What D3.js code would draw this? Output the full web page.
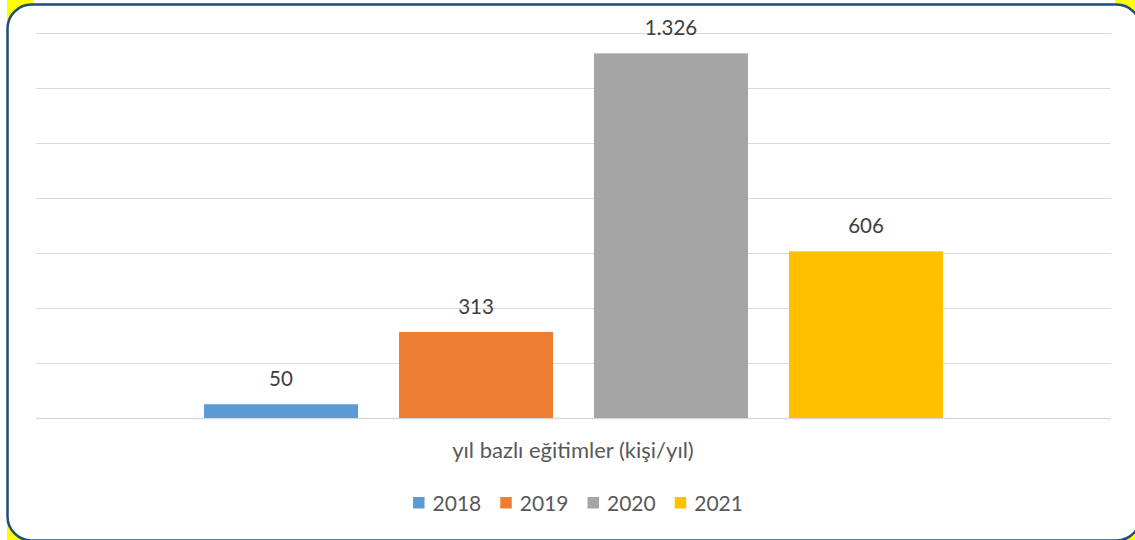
<!DOCTYPE html>
<html><head><meta charset="utf-8">
<script src="https://cdn.jsdelivr.net/npm/d3@7"></script>
<style>
html,body{margin:0;padding:0;background:#fff;}
svg{display:block;}
text{font-family:Lato,"Open Sans",sans-serif;}
</style></head>
<body>
<svg id="chart" width="1135" height="540"></svg>
<script>
const category = "yıl bazlı eğitimler (kişi/yıl)";
const seriesNames = ["2018", "2019", "2020", "2021"];
const seriesValues = [50, 313, 1326, 606];
const seriesColors = ["#5B9BD5", "#ED7D31", "#A5A5A5", "#FFC000"];
const yTicks = [0, 200, 400, 600, 800, 1000, 1200, 1400];
const labelText = ["50", "313", "1.326", "606"];

const svg = d3.select("#chart");
// yellow only peeks out at the rounded corners
const corners = [[7, 0], [1115, 0], [7, 515], [1115, 515]];
svg.append("g").selectAll("rect").data(corners).join("rect")
  .attr("x", d => d[0]).attr("y", d => d[1]).attr("width", d => d[0] > 500 ? 20 : 26).attr("height", 25)
  .attr("fill", "#FFFF00");
svg.append("rect").attr("x", 7.5).attr("y", 4.5).attr("width", 1133).attr("height", 536)
  .attr("rx", 24).attr("ry", 24).attr("fill", "#fff").attr("stroke", "#1F4E79").attr("stroke-width", 2.5);

const plotL = 36, plotR = 1111, plotT = 33, plotB = 418;
const y = d3.scaleLinear().domain([0, 1400]).range([plotB, plotT]);
const xCat = d3.scaleBand().domain([category]).range([plotL, plotR]);
const x = d3.scaleBand().domain(seriesNames)
  .range([183.5, 963.5]).paddingInner(41/195).paddingOuter(20.5/195);

svg.append("g").selectAll("line").data(yTicks).join("line")
  .attr("x1", plotL).attr("x2", plotR)
  .attr("y1", d => Math.round(y(d)) + 0.5).attr("y2", d => Math.round(y(d)) + 0.5)
  .attr("stroke", "#D9D9D9").attr("stroke-width", d => d === 0 ? 1.5 : 1);

const data = seriesNames.map((s, i) => ({s, v: seriesValues[i], c: seriesColors[i], l: labelText[i]}));

svg.append("g").selectAll("rect").data(data).join("rect")
  .attr("x", d => x(d.s)).attr("width", x.bandwidth())
  .attr("y", d => y(d.v)).attr("height", d => y(0) - y(d.v))
  .attr("fill", d => d.c);

svg.append("g").selectAll("text").data(data).join("text")
  .attr("x", d => x(d.s) + x.bandwidth()/2).attr("y", d => y(d.v) - 18)
  .attr("text-anchor", "middle").attr("font-size", 20.5).attr("fill", "#404040")
  .text(d => d.l);

svg.append("text").attr("x", xCat(category) + xCat.bandwidth()/2 - 0.5).attr("y", 458)
  .attr("text-anchor", "middle").attr("font-size", 22).attr("fill", "#595959")
  .text(category);

// legend
const lg = svg.append("g");
const items = lg.selectAll("g").data(data).join("g");
items.append("rect").attr("width", 11.5).attr("height", 11.5).attr("y", 497).attr("fill", d => d.c);
items.append("text").attr("x", 19.5).attr("y", 511).attr("font-size", 21).attr("fill", "#595959").text(d => d.s);
let widths = [];
items.each(function(){ widths.push(this.getBBox().width); });
const gap = 19;
const total = d3.sum(widths) + gap*(widths.length-1);
let cx = 578 - total/2;
items.each(function(d, i){ d3.select(this).attr("transform", `translate(${cx},0)`); cx += widths[i] + gap; });
</script>
</body></html>
